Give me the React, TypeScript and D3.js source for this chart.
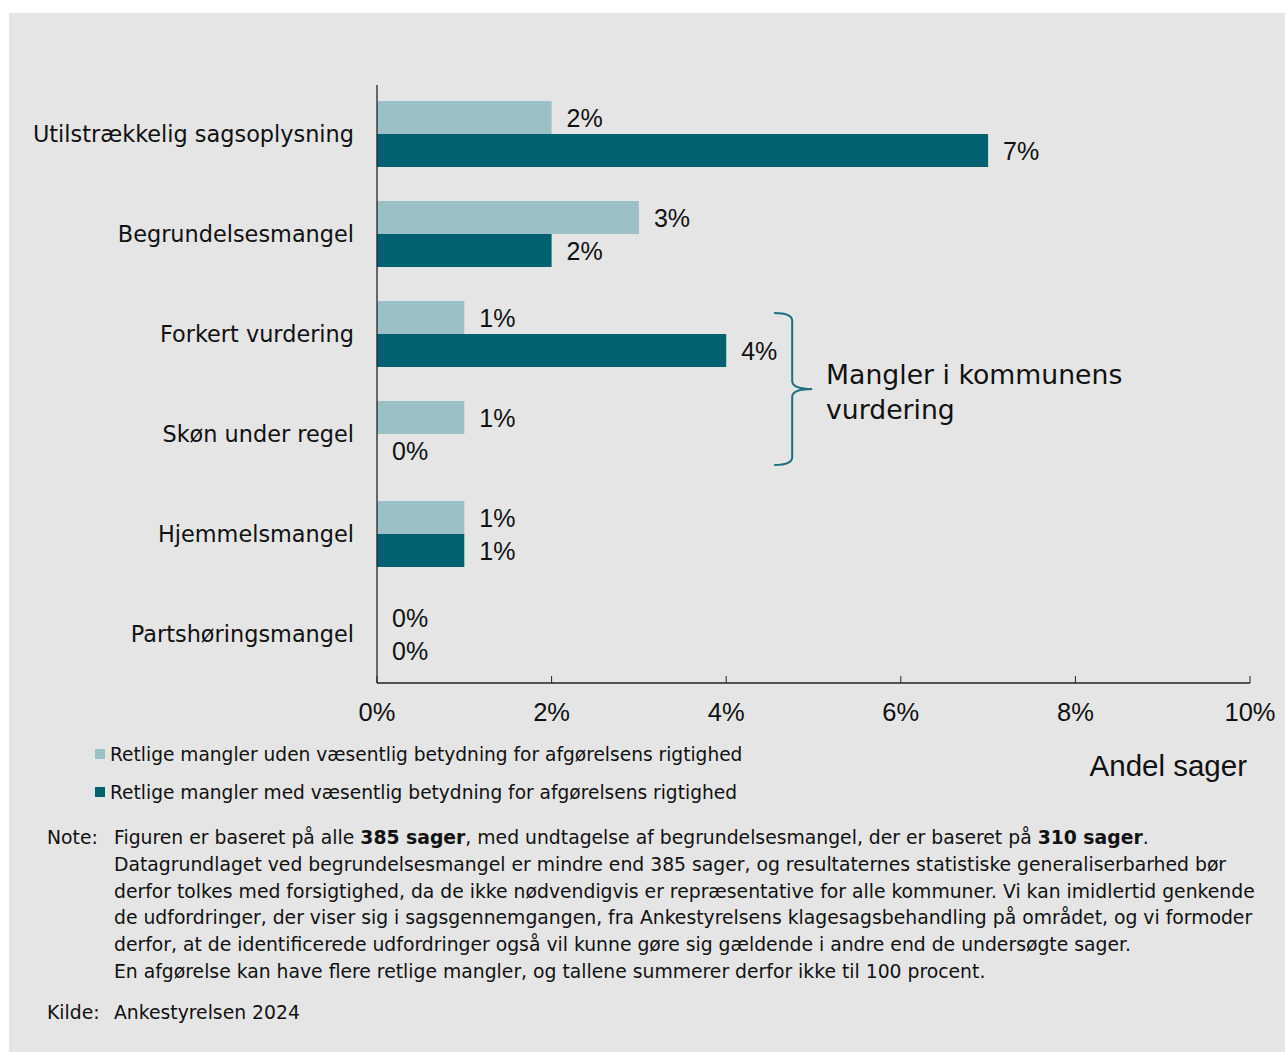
import React from "react";
import * as d3 from "d3";

const categories = [
  "Utilstrækkelig sagsoplysning",
  "Begrundelsesmangel",
  "Forkert vurdering",
  "Skøn under regel",
  "Hjemmelsmangel",
  "Partshøringsmangel",
];
const udenValues = [2, 3, 1, 1, 1, 0];
const medValues = [7, 2, 4, 0, 1, 0];
const xTicks = [0, 2, 4, 6, 8, 10];
const seriesKeys = ["uden", "med"];
const seriesLabels = [
  "Retlige mangler uden væsentlig betydning for afgørelsens rigtighed",
  "Retlige mangler med væsentlig betydning for afgørelsens rigtighed",
];
const bracketLabel = ["Mangler i kommunens", "vurdering"];
const axisTitle = "Andel sager";
const noteLines = [
  [["Figuren er baseret på alle ", false], ["385 sager", true], [", med undtagelse af begrundelsesmangel, der er baseret på ", false], ["310 sager", true], [".", false]],
  [["Datagrundlaget ved begrundelsesmangel er mindre end 385 sager, og resultaternes statistiske generaliserbarhed bør", false]],
  [["derfor tolkes med forsigtighed, da de ikke nødvendigvis er repræsentative for alle kommuner. Vi kan imidlertid genkende", false]],
  [["de udfordringer, der viser sig i sagsgennemgangen, fra Ankestyrelsens klagesagsbehandling på området, og vi formoder", false]],
  [["derfor, at de identificerede udfordringer også vil kunne gøre sig gældende i andre end de undersøgte sager.", false]],
  [["En afgørelse kan have flere retlige mangler, og tallene summerer derfor ikke til 100 procent.", false]],
] as [string, boolean][][];
const sourceText = "Ankestyrelsen 2024";

const W = 1285;
const H = 1052;
const colors = { uden: "#9bc1c7", med: "#036272" };
const bg = "#e5e5e5";
const verdana = "'DejaVu Sans', Verdana, sans-serif";
const arial = "'Liberation Sans', Arial, sans-serif";

export default function App() {
  const x = d3.scaleLinear().domain([0, 10]).range([377, 1250]);
  const y = d3
    .scaleBand<string>()
    .domain(categories)
    .range([84, 684])
    .paddingInner(0.34)
    .paddingOuter(0.17);
  const y1 = d3.scaleBand<string>().domain(seriesKeys).range([0, y.bandwidth()]);
  const rows = categories.map((c, i) => ({ c, uden: udenValues[i], med: medValues[i] }));

  const axisY = 683;
  const bTop = (y(categories[2]) as number) + 12;
  const bBot = (y(categories[3]) as number) + y.bandwidth() - 2;
  const bMid = (bTop + bBot) / 2;
  const bx0 = x(4) + 48;
  const bx1 = bx0 + 18;
  const bx2 = bx1 + 20;
  const bracePath = `M${bx0},${bTop} Q${bx1},${bTop} ${bx1},${bTop + 8} L${bx1},${bMid - 8} Q${bx1},${bMid} ${bx2},${bMid} Q${bx1},${bMid} ${bx1},${bMid + 8} L${bx1},${bBot - 8} Q${bx1},${bBot} ${bx0},${bBot}`;

  return (
    <svg width={W} height={H} style={{ position: "absolute", left: 0, top: 0 }}>
      <rect x={0} y={0} width={W} height={H} fill="#ffffff" />
      <rect x={9} y={13} width={W - 9} height={H - 13} fill={bg} />

      {rows.map((r) => (
        <g key={r.c} transform={`translate(0,${y(r.c)})`}>
          {seriesKeys.map((k) => {
            const v = (r as any)[k] as number;
            const yy = y1(k) as number;
            return (
              <g key={k}>
                {v > 0 && (
                  <rect x={x(0)} y={yy} width={x(v) - x(0)} height={y1.bandwidth()} fill={(colors as any)[k]} />
                )}
                <text
                  x={x(v) + 15}
                  y={yy + y1.bandwidth() / 2}
                  dominantBaseline="central"
                  fontFamily={arial}
                  fontSize={25}
                  fill="#111"
                >
                  {`${v}%`}
                </text>
              </g>
            );
          })}
          <text
            x={354}
            y={y.bandwidth() / 2}
            textAnchor="end"
            dominantBaseline="central"
            fontFamily={verdana}
            fontSize={22.4}
            fill="#111"
          >
            {r.c}
          </text>
        </g>
      ))}

      {/* axes */}
      <line x1={x(0)} x2={x(0)} y1={85} y2={axisY} stroke="#222" strokeWidth={1.3} />
      <line x1={x(0)} x2={x(10)} y1={axisY} y2={axisY} stroke="#222" strokeWidth={1.3} />
      {xTicks.map((t) => (
        <g key={t}>
          <line x1={x(t)} x2={x(t)} y1={axisY - 7} y2={axisY} stroke="#222" strokeWidth={1} />
          <text
            x={x(t)}
            y={712}
            textAnchor="middle"
            dominantBaseline="central"
            fontFamily={arial}
            fontSize={25.5}
            fill="#111"
          >
            {`${t}%`}
          </text>
        </g>
      ))}
      <text x={1247} y={765} textAnchor="end" dominantBaseline="central" fontFamily={arial} fontSize={29.5} fill="#111">
        {axisTitle}
      </text>

      {/* bracket */}
      <path d={bracePath} fill="none" stroke="#1b6e7d" strokeWidth={2} />
      {bracketLabel.map((l, i) => (
        <text
          key={l}
          x={826}
          y={374 + i * 35}
          dominantBaseline="central"
          fontFamily={verdana}
          fontSize={26.7}
          fill="#111"
        >
          {l}
        </text>
      ))}

      {/* legend */}
      {seriesKeys.map((k, i) => (
        <g key={k} transform={`translate(95,${754 + i * 38})`}>
          <rect x={0} y={-5} width={10} height={10} fill={(colors as any)[k]} />
          <text x={15} y={0} dominantBaseline="central" fontFamily={verdana} fontSize={18.6} fill="#111">
            {seriesLabels[i]}
          </text>
        </g>
      ))}

      {/* note */}
      <text x={47} y={837} dominantBaseline="central" fontFamily={verdana} fontSize={18.8} fill="#111">
        Note:
      </text>
      {noteLines.map((line, i) => (
        <text
          key={i}
          x={114}
          y={837 + i * 26.8}
          dominantBaseline="central"
          fontFamily={verdana}
          fontSize={18.8}
          fill="#111"
        >
          {line.map(([s, b], j) => (
            <tspan key={j} fontWeight={b ? "bold" : "normal"}>
              {s}
            </tspan>
          ))}
        </text>
      ))}
      <text x={47} y={1012} dominantBaseline="central" fontFamily={verdana} fontSize={18.8} fill="#111">
        Kilde:
      </text>
      <text x={114} y={1012} dominantBaseline="central" fontFamily={verdana} fontSize={18.8} fill="#111">
        {sourceText}
      </text>
    </svg>
  );
}
